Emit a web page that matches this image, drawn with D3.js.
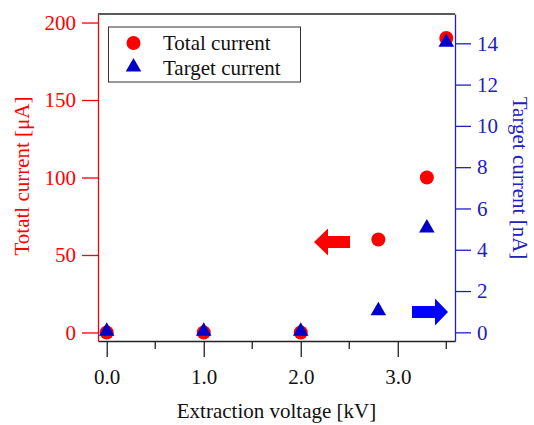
<!DOCTYPE html>
<html>
<head>
<meta charset="utf-8">
<script src="https://cdn.jsdelivr.net/npm/d3@7"></script>
<style>
  body { margin: 0; background: #fff; }
  text { font-family: "Liberation Serif", "Times New Roman", serif; }
</style>
</head>
<body>
<div id="chart"></div>
<script>
// data
var voltage = [0, 1, 2, 2.8, 3.3, 3.5];          // kV
var totalCurrent = [0, 0, 0, 60, 100, 190];       // uA
var targetCurrent = [0, 0, 0, 1, 5, 14];          // nA
var xTicks = [0, 1, 2, 3];
var xMinor = [0.5, 1.5, 2.5, 3.5];
var leftTicks = [0, 50, 100, 150, 200];
var rightTicks = [0, 2, 4, 6, 8, 10, 12, 14];

var red = "#ff0000", blue = "#0000c8", axisBlue = "#2020c0";
var fontSize = "21px";

var width = 534, height = 425;
var plotLeft = 98, plotRight = 455, plotTop = 14, plotBottom = 341;

var svg = d3.select("#chart").append("svg")
    .attr("width", width)
    .attr("height", height);

var x = d3.scaleLinear().domain([-0.09, 3.59]).range([plotLeft, plotRight]);
var yL = d3.scaleLinear().domain([-5.5, 205.5]).range([plotBottom, plotTop]);
var yR = d3.scaleLinear().domain([-0.42, 15.42]).range([plotBottom, plotTop]);

// frame top
svg.append("line")
    .attr("x1", plotLeft).attr("x2", plotRight).attr("y1", plotTop).attr("y2", plotTop)
    .style("stroke", "#222").style("stroke-width", 1.3);

// bottom axis
var xAxis = svg.append("g")
    .attr("transform", "translate(0," + plotBottom + ")")
    .call(d3.axisBottom(x).tickValues(xTicks).tickSize(16).tickSizeOuter(0)
        .tickFormat(d3.format(".1f")));
xAxis.select(".domain").style("stroke", "#222").style("stroke-width", 1.3);
xAxis.selectAll(".tick line").style("stroke", "#222").style("stroke-width", 1.3);
xAxis.selectAll("text").attr("y", 28).style("font-size", fontSize).style("fill", "#111");

svg.append("g")
    .attr("transform", "translate(0," + plotBottom + ")")
    .selectAll("line")
    .data(xMinor)
    .enter().append("line")
    .attr("x1", function (d) { return x(d); })
    .attr("x2", function (d) { return x(d); })
    .attr("y1", 0).attr("y2", 8)
    .style("stroke", "#222").style("stroke-width", 1.3);

// left axis (red)
var leftAxis = svg.append("g")
    .attr("transform", "translate(" + plotLeft + ",0)")
    .call(d3.axisLeft(yL).tickValues(leftTicks).tickSize(16).tickSizeOuter(0));
leftAxis.select(".domain").style("stroke", red).style("stroke-width", 1.3);
leftAxis.selectAll(".tick line").style("stroke", red).style("stroke-width", 1.3);
leftAxis.selectAll("text").attr("x", -22).style("font-size", fontSize).style("fill", red);

// right axis (blue)
var rightAxis = svg.append("g")
    .attr("transform", "translate(" + plotRight + ",0)")
    .call(d3.axisRight(yR).tickValues(rightTicks).tickSize(16).tickSizeOuter(0));
rightAxis.select(".domain").style("stroke", axisBlue).style("stroke-width", 1.3);
rightAxis.selectAll(".tick line").style("stroke", axisBlue).style("stroke-width", 1.3);
rightAxis.selectAll("text").attr("x", 22).style("font-size", fontSize).style("fill", axisBlue);

// axis titles
svg.append("text")
    .attr("x", (plotLeft + plotRight) / 2).attr("y", 418)
    .attr("text-anchor", "middle")
    .style("font-size", fontSize).style("fill", "#111")
    .text("Extraction voltage [kV]");

svg.append("text")
    .attr("transform", "translate(29,176) rotate(-90)")
    .attr("text-anchor", "middle")
    .style("font-size", fontSize).style("fill", red)
    .text("Totatl current [μA]");

svg.append("text")
    .attr("transform", "translate(513,178) rotate(90)")
    .attr("text-anchor", "middle")
    .style("font-size", fontSize).style("fill", axisBlue)
    .text("Target current [nA]");

// arrows
function arrowPath(x0, x1, yc, headLen, shaftH, headH) {
    // x0 = tip, x1 = tail end
    var dir = x1 > x0 ? 1 : -1;
    var xh = x0 + dir * headLen;
    return "M" + x0 + "," + yc +
        "L" + xh + "," + (yc - headH / 2) +
        "L" + xh + "," + (yc - shaftH / 2) +
        "L" + x1 + "," + (yc - shaftH / 2) +
        "L" + x1 + "," + (yc + shaftH / 2) +
        "L" + xh + "," + (yc + shaftH / 2) +
        "L" + xh + "," + (yc + headH / 2) + "Z";
}
svg.append("path")
    .attr("d", arrowPath(314, 350, 242, 14, 12, 27))
    .style("fill", red);
svg.append("path")
    .attr("d", arrowPath(448, 412, 312, 13, 12, 27))
    .style("fill", "#0000ff");

// markers
var pts = voltage.map(function (v, i) {
    return { v: v, tot: totalCurrent[i], tgt: targetCurrent[i] };
});

svg.append("g").selectAll("circle")
    .data(pts)
    .enter().append("circle")
    .attr("cx", function (d) { return x(d.v); })
    .attr("cy", function (d) { return yL(d.tot); })
    .attr("r", 7)
    .style("fill", red);

var tri = d3.symbol().type(d3.symbolTriangle).size(105);
svg.append("g").selectAll("path")
    .data(pts)
    .enter().append("path")
    .attr("d", tri)
    .attr("transform", function (d) {
        return "translate(" + x(d.v) + "," + (yR(d.tgt) - 1) + ")";
    })
    .style("fill", blue);

// legend
var legend = svg.append("g");
legend.append("rect")
    .attr("x", 108.5).attr("y", 27)
    .attr("width", 192).attr("height", 55)
    .style("fill", "#fff").style("stroke", "#333").style("stroke-width", 1);
legend.append("circle")
    .attr("cx", 133.5).attr("cy", 43).attr("r", 7)
    .style("fill", red);
legend.append("path")
    .attr("d", tri)
    .attr("transform", "translate(133.5,67)")
    .style("fill", blue);
legend.append("text")
    .attr("x", 163).attr("y", 50)
    .style("font-size", fontSize).style("fill", "#111")
    .text("Total current");
legend.append("text")
    .attr("x", 163).attr("y", 75)
    .style("font-size", fontSize).style("fill", "#111")
    .text("Target current");
</script>
</body>
</html>
